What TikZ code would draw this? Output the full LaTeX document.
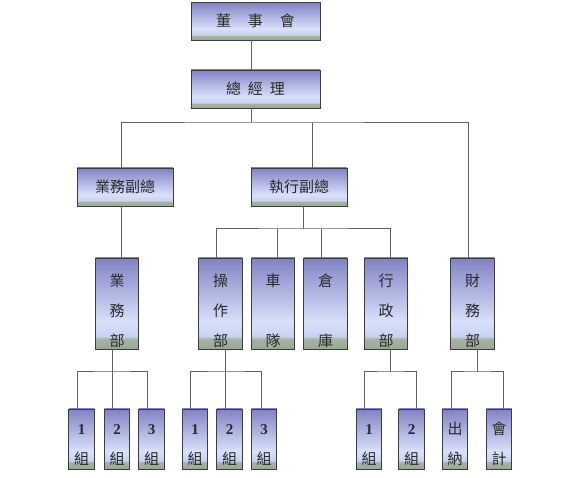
\documentclass[tikz,border=0pt]{standalone}
\usepackage{fontspec}
\setmainfont{Liberation Serif}
\newfontfamily\cjk{Noto Sans CJK TC}
\usetikzlibrary{positioning}
\definecolor{boxtop}{HTML}{8282C4}
\definecolor{boxlight}{HTML}{D8E0FA}
\definecolor{boxmid}{HTML}{C8D2F0}
\definecolor{boxgreen}{HTML}{A4B4A0}
\definecolor{boxgreendark}{HTML}{98A894}
\definecolor{boxline}{HTML}{3C3C48}
\definecolor{linegray}{HTML}{626262}
\definecolor{textgray}{HTML}{2A2A2A}
\pgfdeclareverticalshading{boxfill}{100bp}{color(0bp)=(boxgreendark); color(25bp)=(boxgreendark); color(30.5bp)=(boxgreen); color(32bp)=(boxmid); color(40bp)=(boxlight); color(75bp)=(boxtop); color(100bp)=(boxtop)}
\tikzstyle{unit} = [draw=boxline, line width=0.9pt, outer sep=0pt, shading=boxfill, inner sep=0pt, text=textgray, font=\cjk\fontsize{15}{30}\selectfont, align=center]
\tikzstyle{headbox} = [unit, minimum width=129pt, minimum height=37.5pt]
\tikzstyle{vpbox} = [unit, minimum width=96pt, minimum height=38pt]
\tikzstyle{dept} = [unit, minimum width=43.5pt, minimum height=91pt]
\tikzstyle{team} = [unit, minimum width=25.5pt, minimum height=60pt]
\tikzstyle{branch} = [draw=linegray, line width=1pt]
\newcommand{\num}[1]{{\rmfamily\bfseries #1}}
\newcommand{\padtop}{\rule{0pt}{27pt}}
\newcommand{\padteam}{\rule{0pt}{22pt}}
\begin{document}
\begin{tikzpicture}[x=1pt, y=1pt]
    \useasboundingbox (0,0) rectangle (571,478);
        \node (board) [headbox] at (255.5,456.75) {董\hspace{17pt}事\hspace{17pt}會};
        \node (gm) [headbox, minimum height=38pt, below=30pt of board] {總\hspace{7pt}經\hspace{7pt}理};
        \node (salesvp) [vpbox, below left=60pt and 18pt of gm] {業務副總};
        \node (execvp) [vpbox, right=78pt of salesvp] {執行副總};

        \node (salesdept) [dept, below=52pt of salesvp, xshift=-8pt] {\padtop 業\\務\\部};
        \node (ops) [dept, right=60pt of salesdept] {\padtop 操\\作\\部};
        \node (fleet) [dept, right=9pt of ops] {\padtop 車\\\\隊};
        \node (store) [dept, right=9pt of fleet] {\padtop 倉\\\\庫};
        \node (admin) [dept, right=17pt of store] {\padtop 行\\政\\部};
        \node (finance) [dept, right=43pt of admin] {\padtop 財\\務\\部};

        \node (salesone) [team, below left=60pt and 1pt of salesdept] {\padteam\num{1}\\組};
        \node (salestwo) [team, right=10pt of salesone] {\padteam\num{2}\\組};
        \node (salesthree) [team, right=9pt of salestwo] {\padteam\num{3}\\組};
        \node (opsone) [team, below=60pt of ops, xshift=-25.5pt] {\padteam\num{1}\\組};
        \node (opstwo) [team, right=9pt of opsone] {\padteam\num{2}\\組};
        \node (opsthree) [team, right=9pt of opstwo] {\padteam\num{3}\\組};
        \node (adminone) [team, below=60pt of admin, xshift=-17pt] {\padteam\num{1}\\組};
        \node (admintwo) [team, right=17pt of adminone] {\padteam\num{2}\\組};
        \node (cashier) [team, below=60pt of finance, xshift=-17.5pt] {\padteam 出\\納};
        \node (accounting) [team, right=18.5pt of cashier] {\padteam 會\\計};

        \draw [branch] ([xshift=-4.5pt]board.south) -- ([xshift=-4.5pt]gm.north);
        \draw [branch] ([xshift=-4.5pt]gm.south) -- ++(0,-15pt) coordinate (busgm);
        \draw [branch] ([xshift=-4pt]salesvp.north) |- (busgm) -| ([xshift=-4.5pt]finance.north);
        \draw [branch] ([xshift=13pt]execvp.north) -- ([xshift=13pt]execvp.north |- busgm);
        \draw [branch] ([xshift=-4pt]salesvp.south) -- ([xshift=-4pt]salesvp.south |- salesdept.north);

        \draw [branch] ([xshift=4pt]execvp.south) -- ++(0,-23pt) coordinate (busexec);
        \draw [branch] ([xshift=-4pt]ops.north) |- (busexec) -| ([xshift=4pt]admin.north);
        \draw [branch] ([xshift=4.5pt]fleet.north) -- ([xshift=4.5pt]fleet.north |- busexec);
        \draw [branch] ([xshift=-4pt]store.north) -- ([xshift=-4pt]store.north |- busexec);

        \draw [branch] ([xshift=-5pt]salesdept.south) -- ++(0,-23pt) coordinate (bussales);
        \draw [branch] ([xshift=-4.5pt]salesone.north) |- (bussales) -| ([xshift=-4.5pt]salesthree.north);
        \draw [branch] (bussales) -- (bussales |- salestwo.north);

        \draw [branch] ([xshift=4.5pt]ops.south) -- ++(0,-23pt) coordinate (busops);
        \draw [branch] ([xshift=-5pt]opsone.north) |- (busops) -| ([xshift=-3pt]opsthree.north);
        \draw [branch] (busops) -- (busops |- opstwo.north);

        \draw [branch] ([xshift=4pt]admin.south) -- ++(0,-23pt) coordinate (busadmin);
        \draw [branch] ([xshift=-5pt]adminone.north) |- (busadmin) -| ([xshift=4.5pt]admintwo.north);

        \draw [branch] ([xshift=4.5pt]finance.south) -- ++(0,-23pt) coordinate (busfinance);
        \draw [branch] ([xshift=-4pt]cashier.north) |- (busfinance) -| ([xshift=4pt]accounting.north);
    \end{tikzpicture}
\end{document}
